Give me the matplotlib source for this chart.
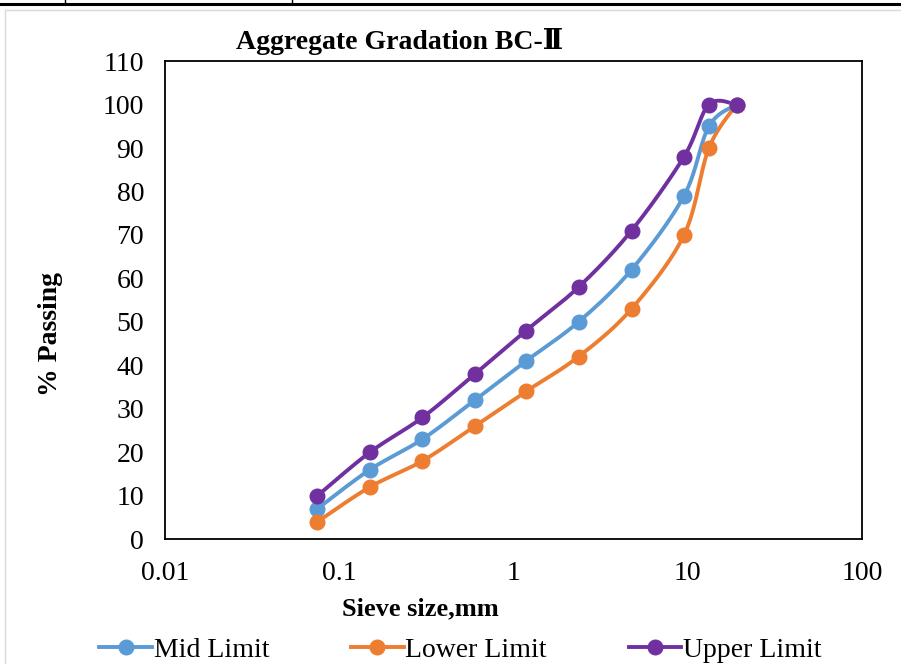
import matplotlib
matplotlib.use('Agg')
import matplotlib.pyplot as plt
from matplotlib.lines import Line2D
from matplotlib.patches import Rectangle
import numpy as np

# Sieve sizes (mm) and % passing
sieve = [0.075, 0.15, 0.3, 0.6, 1.18, 2.36, 4.75, 9.5, 13.2, 19]
mid_limit = [7, 16, 23, 32, 41, 50, 62, 79, 95, 100]
lower_limit = [4, 12, 18, 26, 34, 42, 53, 70, 90, 100]
upper_limit = [10, 20, 28, 38, 48, 58, 71, 88, 100, 100]

series = [
    ('Mid Limit', mid_limit, '#5B9BD5'),
    ('Lower Limit', lower_limit, '#ED7D31'),
    ('Upper Limit', upper_limit, '#7030A0'),
]

plt.rcParams['font.family'] = ['Liberation Serif', 'DejaVu Serif']


def smooth(ax, xs, ys, n=30):
    # Excel style smoothing: Catmull-Rom in display space
    pts = ax.transData.transform(np.column_stack([xs, ys]))
    p = np.vstack([pts[0], pts, pts[-1]])
    out = []
    t = np.linspace(0, 1, n)[:, None]
    for i in range(1, len(p) - 2):
        p0, p1, p2, p3 = p[i - 1], p[i], p[i + 1], p[i + 2]
        c1 = p1 + (p2 - p0) / 6
        c2 = p2 - (p3 - p1) / 6
        seg = ((1 - t) ** 3) * p1 + 3 * ((1 - t) ** 2) * t * c1 + 3 * (1 - t) * t ** 2 * c2 + t ** 3 * p2
        out.append(seg)
    out = np.vstack(out)
    data = ax.transData.inverted().transform(out)
    return data[:, 0], data[:, 1]


fig = plt.figure(figsize=(9.01, 6.64), dpi=100)
ax = fig.add_axes([0.183, 0.188, 0.774, 0.720])
ax.set_xscale('log')
ax.set_xlim(0.01, 100)
ax.set_ylim(0, 110)
ax.set_yticks(range(0, 111, 10))
ax.set_xticks([0.01, 0.1, 1, 10, 100])
ax.set_xticklabels(['0.01', '0.1', '1', '10', '100'])
ax.minorticks_off()
ax.tick_params(length=0, labelsize=20)
ax.tick_params(axis='y', pad=15)
ax.tick_params(axis='x', pad=16)
for s in ax.spines.values():
    s.set_linewidth(1.3)
    s.set_color('black')

handles = []
for name, vals, col in series:
    sx, sy = smooth(ax, sieve, vals)
    ax.plot(sx, sy, color=col, lw=2.8, zorder=2)
    ax.plot(sieve, vals, 'o', color=col, ms=10.5, zorder=3)
    handles.append(Line2D([], [], color=col, lw=2.8, marker='o', ms=10.5))

fig.text(0.444, 0.937, 'Aggregate Gradation BC-Ⅱ', ha='center', va='center',
         fontsize=20, fontweight='bold')
ax.set_xlabel('Sieve size,mm', fontsize=19, fontweight='bold')
ax.xaxis.set_label_coords(0.366, -0.121)
ax.set_ylabel('% Passing', fontsize=20, fontweight='bold', va='center')
ax.yaxis.set_label_coords(-0.164, 0.43)

fig.legend(handles, [s[0] for s in series], loc='center', ncol=3,
           bbox_to_anchor=(0.511, 0.021), frameon=False, fontsize=20,
           columnspacing=2.95, handlelength=1.9, handletextpad=0.05,
           borderpad=0)

# page/table lines and chart border
fig.add_artist(Line2D([0, 1], [1 - 4 / 664, 1 - 4 / 664], color='black', lw=2.2))
fig.add_artist(Line2D([65 / 901, 65 / 901], [1 - 4 / 664, 1], color='black', lw=1))
fig.add_artist(Line2D([292 / 901, 292 / 901], [1 - 4 / 664, 1], color='black', lw=1))
fig.add_artist(Rectangle((5 / 901, -0.01), 1.0, 1 - 10 / 664 + 0.01,
                         transform=fig.transFigure, fill=False,
                         edgecolor='#D9D9D9', lw=1))

fig.savefig('out.png', dpi=100)
